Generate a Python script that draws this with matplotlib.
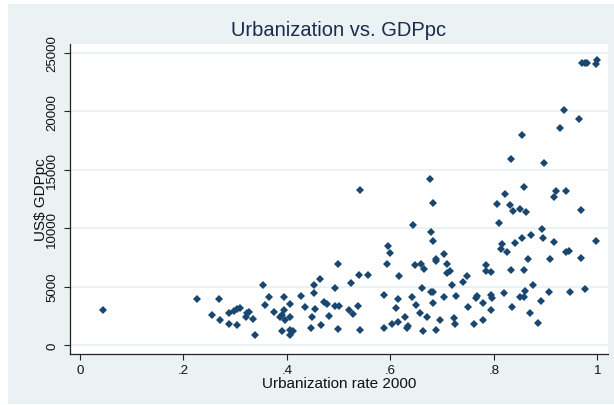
import matplotlib
matplotlib.use("Agg")
import matplotlib.pyplot as plt
from matplotlib.patches import Rectangle

urbanization = [
    0.045, 0.226, 0.255, 0.268, 0.270, 0.288, 0.288, 0.303, 0.298, 0.304,
    0.309, 0.320, 0.323, 0.326, 0.334, 0.339, 0.353, 0.357, 0.365, 0.375,
    0.386, 0.390, 0.394, 0.395, 0.397, 0.390, 0.405, 0.406, 0.405, 0.406,
    0.411, 0.427, 0.435, 0.448, 0.446, 0.452, 0.453, 0.455, 0.463, 0.466,
    0.472, 0.477, 0.481, 0.492, 0.492, 0.498, 0.498, 0.501, 0.520, 0.523,
    0.528, 0.538, 0.540, 0.541, 0.542, 0.557, 0.588, 0.588, 0.594, 0.596,
    0.600, 0.602, 0.611, 0.614, 0.615, 0.617, 0.628, 0.631, 0.634, 0.641,
    0.644, 0.647, 0.649, 0.657, 0.659, 0.661, 0.662, 0.665, 0.671, 0.676,
    0.678, 0.678, 0.682, 0.682, 0.682, 0.683, 0.687, 0.688, 0.688, 0.696,
    0.704, 0.704, 0.710, 0.710, 0.715, 0.719, 0.723, 0.725, 0.727, 0.741,
    0.747, 0.750, 0.762, 0.765, 0.768, 0.779, 0.779, 0.785, 0.785, 0.794,
    0.795, 0.797, 0.795, 0.805, 0.810, 0.814, 0.816, 0.819, 0.821, 0.825,
    0.831, 0.832, 0.832, 0.835, 0.837, 0.840, 0.850, 0.850, 0.854, 0.855,
    0.858, 0.858, 0.858, 0.860, 0.862, 0.866, 0.870, 0.872, 0.876, 0.886,
    0.891, 0.893, 0.895, 0.897, 0.909, 0.907, 0.915, 0.916, 0.919, 0.927,
    0.936, 0.940, 0.940, 0.945, 0.947, 0.964, 0.969, 0.969, 0.971, 0.976,
    0.979, 0.976, 0.998, 1.000, 0.998,
]
gdppc = [
    3000, 3910, 2570, 3910, 2170, 2740, 1830, 1740, 2940, 3080,
    3190, 2400, 2700, 2850, 2250, 860, 5160, 3430, 4080, 2830,
    2370, 2600, 3000, 4080, 2140, 1230, 3480, 2420, 1280, 860,
    1170, 4170, 3280, 2420, 1480, 4480, 5160, 3080, 5680, 1680,
    3650, 3480, 2510, 4900, 3340, 6900, 1340, 3340, 3000, 5310,
    2650, 3340, 5990, 13300, 1260, 5990, 1430, 4250, 6900, 8470,
    7900, 1830, 3170, 2000, 3910, 5910, 2420, 1430, 1660, 4080,
    10300, 6820, 3400, 2740, 6960, 4910, 1170, 6480, 2420, 14210,
    9640, 4510, 8900, 12130, 3570, 4510, 7220, 7360, 1260, 2170,
    7820, 4080, 6900, 6130, 6310, 5140, 2340, 1830, 4170, 5390,
    5910, 3250, 1770, 3990, 4170, 3600, 2170, 6820, 6310, 6220,
    4310, 3990, 3000, 12070, 10470, 8220, 8650, 4420, 12950, 7990,
    11980, 15950, 6420, 3250, 11470, 8730, 11640, 4110, 18000, 9130,
    13550, 6420, 4110, 4620, 11380, 7390, 2770, 9390, 5160, 1910,
    3740, 9900, 9130, 15610, 7330, 4510, 8820, 12700, 13210, 18570,
    20140, 13210, 7990, 8070, 4510, 19340, 11560, 7480, 24140, 24140,
    24140, 4820, 24080, 24420, 8900,
]

x_ticks = [0, 0.2, 0.4, 0.6, 0.8, 1.0]
x_tick_labels = ["0", ".2", ".4", ".6", ".8", "1"]
y_ticks = [0, 5000, 10000, 15000, 20000, 25000]
y_tick_labels = ["0", "5000", "10000", "15000", "20000", "25000"]

plt.rcParams["font.family"] = ["Liberation Sans", "DejaVu Sans"]

BG = "#EAF2F3"
NAVY = "#1a476f"

fig = plt.figure(figsize=(6.14, 4.06), dpi=100, facecolor="white")
fig.patches.append(Rectangle((8 / 614, 1 / 406), 606 / 614, 400 / 406,
                             transform=fig.transFigure, facecolor=BG,
                             edgecolor="none", zorder=-10))

ax = fig.add_axes([70 / 614, 51 / 406, 538 / 614, 310 / 406])
ax.set_facecolor("white")
ax.plot(urbanization, gdppc, linestyle="none", marker="D", markersize=4.4,
        color=NAVY, markeredgewidth=0, zorder=3)

ax.set_xlim(-0.0193, 1.0203)
ax.set_ylim(-770, 25766)
ax.set_xticks(x_ticks)
ax.set_xticklabels(x_tick_labels, fontsize=9.5)
ax.set_yticks(y_ticks)
ax.set_yticklabels(y_tick_labels, fontsize=9.5, rotation=90, va="center")
ax.tick_params(axis="both", direction="out", length=4.5, width=0.8,
               color="#222222", labelcolor="#111111")
ax.tick_params(axis="y", pad=4)
ax.tick_params(axis="x", pad=3)

ax.grid(axis="y", color=BG, linewidth=1.4, zorder=0)
ax.set_axisbelow(True)
for s in ["top", "right"]:
    ax.spines[s].set_visible(False)
for s in ["left", "bottom"]:
    ax.spines[s].set_color("#222222")
    ax.spines[s].set_linewidth(0.9)

ax.set_xlabel("Urbanization rate 2000", fontsize=11, color="#111111", labelpad=0)
ax.set_ylabel("US$ GDPpc", fontsize=11, color="#111111", labelpad=-1)
fig.text(339 / 614, 1 - 30 / 406, "Urbanization vs. GDPpc", ha="center",
         va="center", fontsize=14.5, color="#1a2a50")

fig.savefig("out.png", dpi=100, facecolor=fig.get_facecolor())
